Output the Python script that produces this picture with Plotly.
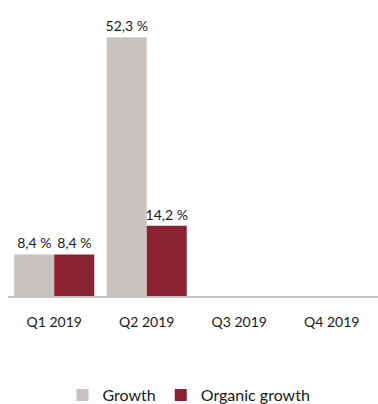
import plotly.graph_objects as go

quarters = ["Q1 2019", "Q2 2019", "Q3 2019", "Q4 2019"]
growth = [8.4, 52.3, None, None]
organic_growth = [8.4, 14.2, None, None]

font_family = "Lato, 'Open Sans', sans-serif"
text_color = "#1a1a1a"


def pct_label(v):
    return f"{v:.1f}".replace(".", ",") + " %" if v is not None else ""


fig = go.Figure()
fig.add_bar(
    name="Growth", x=quarters, y=growth,
    marker=dict(color="#c8c3bf", line=dict(width=0)),
    text=[pct_label(v) for v in growth],
    textposition="outside", cliponaxis=False,
    textfont=dict(size=14, color=text_color, family=font_family),
)
fig.add_bar(
    name="Organic growth", x=quarters, y=organic_growth,
    marker=dict(color="#8a2232", line=dict(width=0)),
    text=[pct_label(v) for v in organic_growth],
    textposition="outside", cliponaxis=False,
    textfont=dict(size=14, color=text_color, family=font_family),
)

fig.update_layout(
    width=378, height=404,
    margin=dict(l=8, r=0, t=20, b=108, autoexpand=False),
    paper_bgcolor="white", plot_bgcolor="white",
    barmode="group", bargap=0.135, bargroupgap=0,
    font=dict(family=font_family, size=14, color=text_color),
    uniformtext=dict(minsize=14, mode="show"),
    showlegend=True,
    legend=dict(
        orientation="h", x=0.5, xanchor="center", xref="container",
        y=0.022, yanchor="middle", yref="container",
        font=dict(size=16, color=text_color), itemwidth=30,
        traceorder="normal",
    ),
    xaxis=dict(
        showline=True, linecolor="#c8c3bf", linewidth=1.5,
        ticks="", tickfont=dict(size=14, color=text_color),
        tickangle=0, ticklabelstandoff=12, automargin=False,
        showgrid=False, zeroline=False,
    ),
    yaxis=dict(
        range=[0, 55.8], visible=False, showgrid=False, zeroline=False,
    ),
)

fig.write_html("out.html")
